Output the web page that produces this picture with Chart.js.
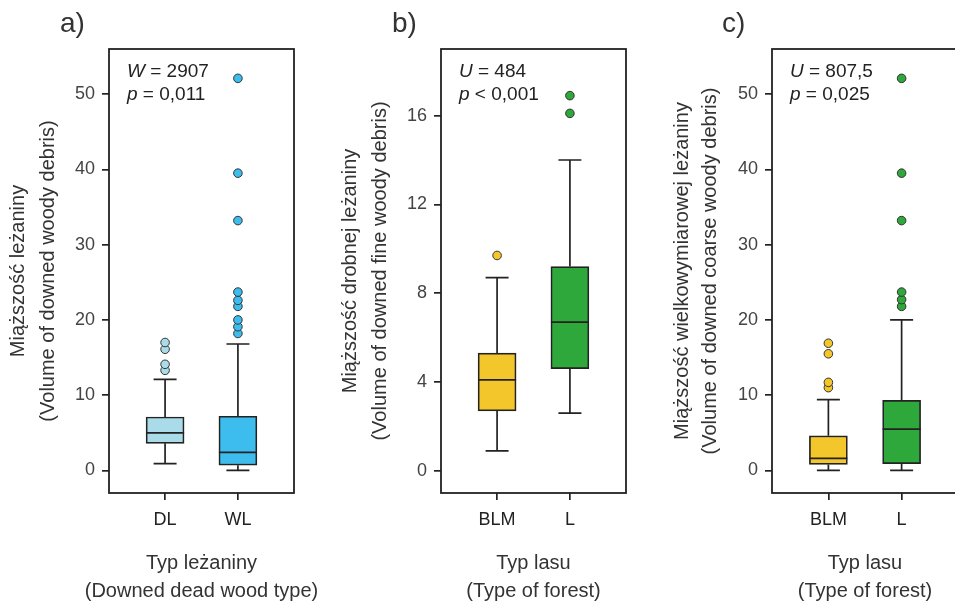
<!DOCTYPE html>
<html>
<head>
<meta charset="utf-8">
<script src="https://cdn.jsdelivr.net/npm/chart.js@4.4.0/dist/chart.umd.min.js"></script>
<style>
  html, body { margin: 0; padding: 0; background: #fff; overflow: hidden; width: 955px; height: 604px; }
  canvas { position: absolute; top: 0; }
</style>
</head>
<body>
<canvas id="panelA" width="335" height="604" style="left:0px"></canvas>
<canvas id="panelB" width="320" height="604" style="left:320px"></canvas>
<canvas id="panelC" width="320" height="604" style="left:650px"></canvas>
<script>
// panel a) - downed woody debris by type
const catsA = ["DL", "WL"];
const lowA = [0.9, 0.0];
const q1A = [3.6, 0.7];
const medA = [5.0, 2.4];
const q3A = [7.1, 7.2];
const highA = [12.1, 16.8];
const outA = [[13.3, 14.1, 16.1, 17.0], [18.2, 19.1, 20.0, 21.8, 22.6, 23.7, 33.2, 39.5, 52.1]];
const yTicksA = [0, 10, 20, 30, 40, 50];

// panel b) - fine woody debris by forest type
const catsB = ["BLM", "L"];
const lowB = [0.9, 2.6];
const q1B = [2.7, 4.6];
const medB = [4.1, 6.7];
const q3B = [5.3, 9.2];
const highB = [8.7, 14.0];
const outB = [[9.7], [16.1, 16.9]];
const yTicksB = [0, 4, 8, 12, 16];

// panel c) - coarse woody debris by forest type
const catsC = ["BLM", "L"];
const lowC = [0.0, 0.0];
const q1C = [0.8, 0.9];
const medC = [1.6, 5.5];
const q3C = [4.6, 9.3];
const highC = [9.4, 20.0];
const outC = [[11.0, 11.7, 15.5, 16.9], [21.8, 22.7, 23.7, 33.2, 39.5, 52.1]];
const yTicksC = [0, 10, 20, 30, 40, 50];

const FONT = "'Liberation Sans', Arial, sans-serif";
const INK = "#222222";

const boxParts = {
  id: "boxParts",
  beforeDatasetsDraw(chart, args, opts) {
    const ctx = chart.ctx, xs = chart.scales.x, ys = chart.scales.y;
    ctx.save();
    ctx.strokeStyle = INK;
    ctx.lineWidth = 1.7;
    opts.cats.forEach((c, i) => {
      const x = xs.getPixelForValue(i + 1);
      ctx.beginPath();
      ctx.moveTo(x, ys.getPixelForValue(opts.high[i]));
      ctx.lineTo(x, ys.getPixelForValue(opts.q3[i]));
      ctx.moveTo(x, ys.getPixelForValue(opts.q1[i]));
      ctx.lineTo(x, ys.getPixelForValue(opts.low[i]));
      // caps
      ctx.moveTo(x - 11.5, ys.getPixelForValue(opts.high[i]));
      ctx.lineTo(x + 11.5, ys.getPixelForValue(opts.high[i]));
      ctx.moveTo(x - 11.5, ys.getPixelForValue(opts.low[i]));
      ctx.lineTo(x + 11.5, ys.getPixelForValue(opts.low[i]));
      ctx.stroke();
    });
    ctx.restore();
  },
  afterDatasetsDraw(chart, args, opts) {
    const ctx = chart.ctx, xs = chart.scales.x, ys = chart.scales.y;
    const a = chart.chartArea;
    ctx.save();
    ctx.strokeStyle = INK;
    ctx.lineWidth = 1.7;
    opts.cats.forEach((c, i) => {
      const x = xs.getPixelForValue(i + 1);
      const y = ys.getPixelForValue(opts.med[i]);
      ctx.beginPath();
      ctx.moveTo(x - 19, y);
      ctx.lineTo(x + 19, y);
      ctx.stroke();
    });
    // frame round the plot
    ctx.lineWidth = 1.8;
    ctx.strokeRect(a.left, a.top, a.right - a.left, a.bottom - a.top);
    ctx.restore();
  },
  afterDraw(chart, args, opts) {
    const ctx = chart.ctx, a = chart.chartArea;
    ctx.save();
    ctx.fillStyle = "#333";
    // panel letter
    ctx.font = "28px " + FONT;
    ctx.textAlign = "left";
    ctx.textBaseline = "alphabetic";
    ctx.fillText(opts.letter, opts.letterX, 32);

    // test statistic
    ctx.fillStyle = INK;
    ctx.font = "italic 19px " + FONT;
    const x0 = a.left + 18;
    ctx.fillText(opts.stat, x0, 77);
    let w = ctx.measureText(opts.stat).width;
    ctx.font = "19px " + FONT;
    ctx.fillText(" = " + opts.statVal, x0 + w, 77);
    ctx.font = "italic 19px " + FONT;
    ctx.fillText("p", x0, 100);
    w = ctx.measureText("p").width;
    ctx.font = "19px " + FONT;
    ctx.fillText(opts.pVal, x0 + w, 100);

    // x title
    ctx.fillStyle = "#333";
    ctx.font = "20px " + FONT;
    ctx.textAlign = "center";
    const cx = (a.left + a.right) / 2;
    ctx.fillText(opts.xTitle[0], cx, 569);
    ctx.fillText(opts.xTitle[1], cx, 597);

    // y title, rotated
    const cy = (a.top + a.bottom) / 2;
    ctx.textBaseline = "middle";
    opts.yTitle.forEach((t, k) => {
      ctx.save();
      ctx.translate(opts.yTitleX[k], cy);
      ctx.rotate(-Math.PI / 2);
      ctx.fillText(t, 0, 0);
      ctx.restore();
    });
    ctx.restore();
  }
};

function makePanel(id, d) {
  const boxes = d.cats.map((c, i) => ({ x: i + 1, y: [d.q1[i], d.q3[i]] }));
  const points = [];
  d.out.forEach((list, i) => list.forEach(v => points.push({ x: i + 1, y: v })));
  const pointColors = [];
  d.out.forEach((list, i) => list.forEach(() => pointColors.push(d.colors[i])));

  new Chart(document.getElementById(id), {
    type: "bar",
    data: {
      datasets: [
        {
          data: boxes,
          backgroundColor: d.colors,
          borderColor: INK,
          borderWidth: 1.7,
          borderSkipped: false,
          barThickness: 38
        },
        {
          type: "scatter",
          data: points,
          backgroundColor: pointColors,
          borderColor: "#333",
          borderWidth: 1,
          pointRadius: 4.3
        }
      ]
    },
    options: {
      responsive: false,
      animation: false,
      layout: { padding: { left: 0, right: d.padRight, top: 49, bottom: 0 } },
      plugins: {
        legend: { display: false },
        tooltip: { enabled: false },
        boxParts: {
          cats: d.cats, low: d.low, q1: d.q1, med: d.med, q3: d.q3, high: d.high,
          letter: d.letter, letterX: d.letterX,
          stat: d.stat, statVal: d.statVal, pVal: d.pVal,
          xTitle: d.xTitle, yTitle: d.yTitle, yTitleX: d.yTitleX
        }
      },
      scales: {
        x: {
          type: "linear",
          min: 0.23,
          max: 2.77,
          offset: false,
          afterFit: (s) => { s.height = 111; },
          afterBuildTicks: (s) => { s.ticks = d.cats.map((c, i) => ({ value: i + 1 })); },
          grid: { offset: false, drawOnChartArea: false, drawTicks: true, tickLength: 7, tickColor: INK, lineWidth: 1.7 },
          border: { display: false },
          ticks: {
            padding: 9,
            color: "#222",
            font: { family: FONT, size: 18 },
            callback: (v) => d.cats[v - 1]
          }
        },
        y: {
          min: d.yMin,
          max: d.yMax,
          afterFit: (s) => { s.width = d.yAxisW; },
          afterBuildTicks: (s) => { s.ticks = d.yTicks.map(v => ({ value: v })); },
          grid: { drawOnChartArea: false, drawTicks: true, tickLength: 7, tickColor: INK, lineWidth: 1.7 },
          border: { display: false },
          ticks: {
            padding: 7,
            color: "#444",
            font: { family: FONT, size: 18 }
          }
        }
      }
    },
    plugins: [boxParts]
  });
}

makePanel("panelA", {
  cats: catsA, low: lowA, q1: q1A, med: medA, q3: q3A, high: highA, out: outA, yTicks: yTicksA,
  colors: ["#a9dbe8", "#3dbdee"],
  yMin: -3, yMax: 56, yAxisW: 109, padRight: 41,
  letter: "a)", letterX: 60,
  stat: "W", statVal: "2907", pVal: " = 0,011",
  xTitle: ["Typ leżaniny", "(Downed dead wood type)"],
  yTitle: ["Miąższość leżaniny", "(Volume of downed woody debris)"],
  yTitleX: [18, 48]
});

makePanel("panelB", {
  cats: catsB, low: lowB, q1: q1B, med: medB, q3: q3B, high: highB, out: outB, yTicks: yTicksB,
  colors: ["#f3c62b", "#2ea83a"],
  yMin: -1, yMax: 19, yAxisW: 121, padRight: 14,
  letter: "b)", letterX: 72,
  stat: "U", statVal: "484", pVal: " < 0,001",
  xTitle: ["Typ lasu", "(Type of forest)"],
  yTitle: ["Miąższość drobnej leżaniny", "(Volume of downed fine woody debris)"],
  yTitleX: [30, 60]
});

makePanel("panelC", {
  cats: catsC, low: lowC, q1: q1C, med: medC, q3: q3C, high: highC, out: outC, yTicks: yTicksC,
  colors: ["#f3c62b", "#2ea83a"],
  yMin: -3, yMax: 56, yAxisW: 122, padRight: 12,
  letter: "c)", letterX: 72,
  stat: "U", statVal: "807,5", pVal: " = 0,025",
  xTitle: ["Typ lasu", "(Type of forest)"],
  yTitle: ["Miąższość wielkowymiarowej leżaniny", "(Volume of downed coarse woody debris)"],
  yTitleX: [32, 60]
});
</script>
</body>
</html>
